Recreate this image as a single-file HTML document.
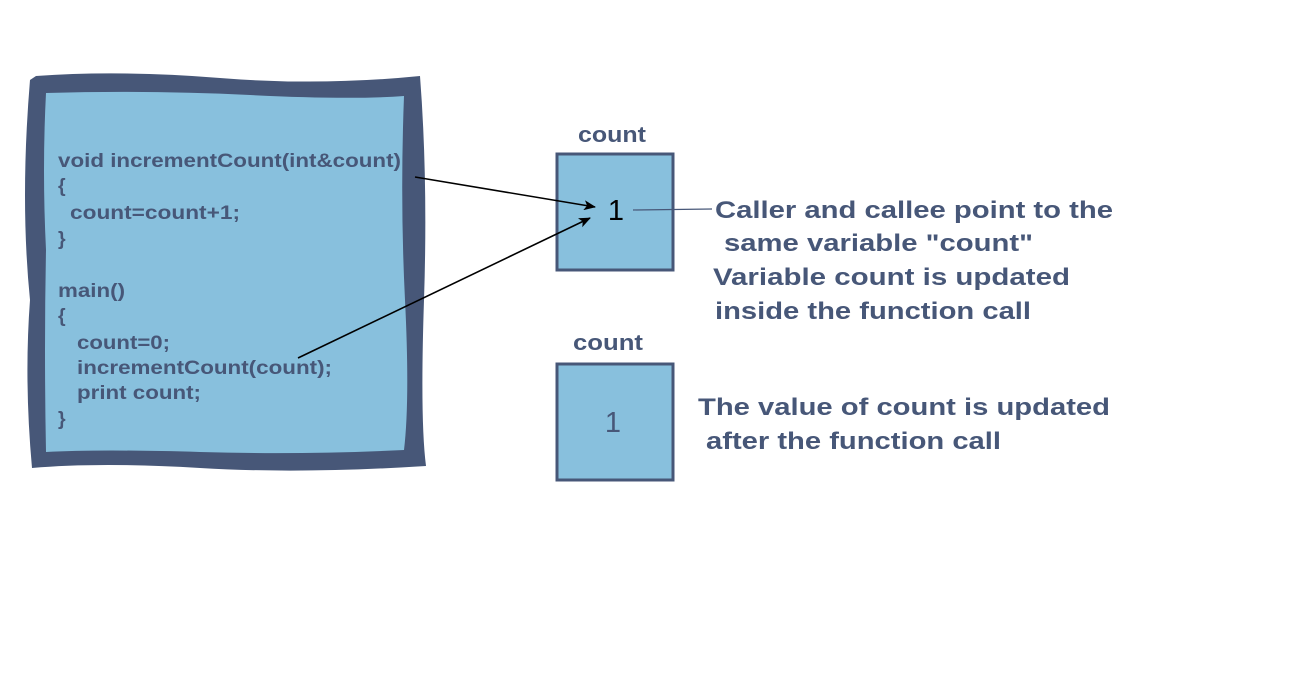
<!DOCTYPE html>
<html><head><meta charset="utf-8"><style>
html,body{margin:0;padding:0;background:#fff;width:1310px;height:678px;overflow:hidden}
svg{display:block}
text{font-family:"Liberation Sans",Arial,sans-serif}
</style></head><body>
<svg width="1310" height="678" viewBox="0 0 1310 678">
<defs><marker id="ah" markerWidth="12" markerHeight="10" refX="11" refY="5" orient="auto" markerUnits="userSpaceOnUse"><path d="M0,0 L12,5 L0,10 L3,5 Z" fill="#000"/></marker></defs>
<g>
<path d="M36,76 Q120,70 220,78 T420,76 Q428,180 424,300 T426,466 Q300,474 200,468 T32,468 Q24,380 30,300 Q20,200 30,80 Z" fill="#475778"/>
<path d="M46,93 Q150,90 250,95 T404,96 Q400,200 405,300 T404,450 Q300,455 200,452 T46,452 Q44,350 46,250 Q42,170 46,93 Z" fill="#88c0dd"/>
</g>
<g font-size="19.5" font-weight="bold" fill="#475778" lengthAdjust="spacingAndGlyphs">
<text x="58" y="167" textLength="343" lengthAdjust="spacingAndGlyphs">void incrementCount(int&amp;count)</text>
<text x="58" y="192">{</text>
<text x="70" y="219" textLength="170" lengthAdjust="spacingAndGlyphs">count=count+1;</text>
<text x="58" y="245">}</text>
<text x="58" y="297" textLength="67" lengthAdjust="spacingAndGlyphs">main()</text>
<text x="58" y="322">{</text>
<text x="77" y="349" textLength="93" lengthAdjust="spacingAndGlyphs">count=0;</text>
<text x="77" y="374" textLength="255" lengthAdjust="spacingAndGlyphs">incrementCount(count);</text>
<text x="77" y="399" textLength="124" lengthAdjust="spacingAndGlyphs">print count;</text>
<text x="58" y="425">}</text>
</g>
<text x="578" y="142" textLength="68" lengthAdjust="spacingAndGlyphs" font-size="22" font-weight="bold" fill="#475778">count</text>
<rect x="557" y="154" width="116" height="116" fill="#88c0dd" stroke="#475778" stroke-width="3"/>
<text x="616" y="220" text-anchor="middle" font-size="29" fill="#000">1</text>
<text x="573" y="350" textLength="70" lengthAdjust="spacingAndGlyphs" font-size="22" font-weight="bold" fill="#475778">count</text>
<rect x="557" y="364" width="116" height="116" fill="#88c0dd" stroke="#475778" stroke-width="3"/>
<text x="613" y="432" text-anchor="middle" font-size="29" fill="#475778">1</text>
<line x1="415" y1="177" x2="595" y2="207" stroke="#000" stroke-width="1.6" marker-end="url(#ah)"/>
<line x1="298" y1="358" x2="590" y2="218" stroke="#000" stroke-width="1.6" marker-end="url(#ah)"/>
<line x1="633" y1="210" x2="712" y2="209" stroke="#475778" stroke-width="1.2"/>
<g font-size="24" font-weight="bold" fill="#475778">
<text x="715" y="218" textLength="398" lengthAdjust="spacingAndGlyphs">Caller and callee point to the</text>
<text x="724" y="251" textLength="309" lengthAdjust="spacingAndGlyphs">same variable "count"</text>
<text x="713" y="285" textLength="357" lengthAdjust="spacingAndGlyphs">Variable count is updated</text>
<text x="715" y="319" textLength="316" lengthAdjust="spacingAndGlyphs">inside the function call</text>
</g>
<g font-size="24" font-weight="bold" fill="#475778">
<text x="698" y="415" textLength="412" lengthAdjust="spacingAndGlyphs">The value of count is updated</text>
<text x="706" y="449" textLength="295" lengthAdjust="spacingAndGlyphs">after the function call</text>
</g>
</svg>
</body></html>
